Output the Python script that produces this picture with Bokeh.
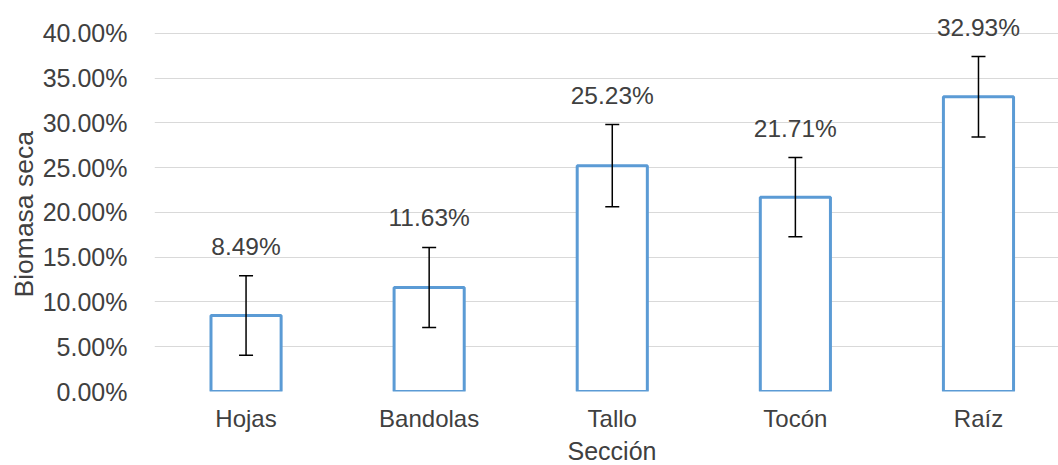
from bokeh.plotting import figure
from bokeh.models import (ColumnDataSource, Range1d, FixedTicker, NumeralTickFormatter,
                          Whisker, TeeHead, LabelSet, Title)
from bokeh.core.properties import value
from bokeh.embed import file_html
from bokeh.resources import INLINE

secciones = ["Hojas", "Bandolas", "Tallo", "Tocón", "Raíz"]
biomasa = [0.0849, 0.1163, 0.2523, 0.2171, 0.3293]
error = [0.0443, 0.0447, 0.0459, 0.0442, 0.0449]
y_ticks = [0.0, 0.05, 0.10, 0.15, 0.20, 0.25, 0.30, 0.35, 0.40]

FONT = "Liberation Sans"
TXT = "#404040"

pos = list(range(len(secciones)))
src = ColumnDataSource(dict(
    x=pos, y=biomasa,
    upper=[v + e for v, e in zip(biomasa, error)],
    lower=[v - e for v, e in zip(biomasa, error)],
    label=[f"{v:.2%}" for v in biomasa],
))

p = figure(width=1058, height=465, output_backend="svg", toolbar_location=None,
           x_range=Range1d(-0.5, 4.437), y_range=Range1d(0, 0.4279),
           min_border_left=154, min_border_right=0, min_border_top=8, min_border_bottom=74)
p.outline_line_color = None
p.background_fill_color = "white"
p.border_fill_color = "white"

p.vbar(x="x", top="y", width=0.383, source=src, fill_color="white",
       line_color="#5B9BD5", line_width=3)

w = Whisker(base="x", upper="upper", lower="lower", source=src, level="overlay",
            line_color="black", line_width=1.5,
            upper_head=TeeHead(size=14, line_color="black", line_width=1.5),
            lower_head=TeeHead(size=14, line_color="black", line_width=1.5))
p.add_layout(w)

labels = LabelSet(x="x", y="upper", text="label", source=src, y_offset=21,
                  text_align="center", text_baseline="alphabetic",
                  text_font=value(FONT), text_font_size=value("24.5px"),
                  text_color=value(TXT))
p.add_layout(labels)

# axes
p.xaxis.ticker = FixedTicker(ticks=pos)
p.xaxis.major_label_overrides = {i: s for i, s in enumerate(secciones)}
p.xaxis.axis_line_color = None
p.xaxis.major_tick_line_color = None
p.xaxis.minor_tick_line_color = None
p.xaxis.major_label_standoff = 7
p.xaxis.major_label_text_font = FONT
p.xaxis.major_label_text_font_size = "24px"
p.xaxis.major_label_text_color = TXT
p.xgrid.grid_line_color = None

p.yaxis.ticker = FixedTicker(ticks=y_ticks)
p.yaxis.formatter = NumeralTickFormatter(format="0.00%")
p.yaxis.axis_line_color = None
p.yaxis.major_tick_line_color = None
p.yaxis.minor_tick_line_color = None
p.yaxis.major_label_standoff = 21
p.yaxis.major_label_text_font = FONT
p.yaxis.major_label_text_font_size = "25px"
p.yaxis.major_label_text_color = TXT
p.ygrid.grid_line_color = "#D9D9D9"
p.ygrid.grid_line_width = 1

# axis titles
p.add_layout(Title(text="Sección", align="left", offset=413, standoff=1,
                   text_font=FONT, text_font_size="25px", text_font_style="normal",
                   text_color=TXT), "below")
p.add_layout(Title(text="Biomasa seca", align="left", offset=94, standoff=2,
                   text_font=FONT, text_font_size="26.5px", text_font_style="normal",
                   text_color=TXT), "left")

open("out.html", "w").write(file_html(p, INLINE))
